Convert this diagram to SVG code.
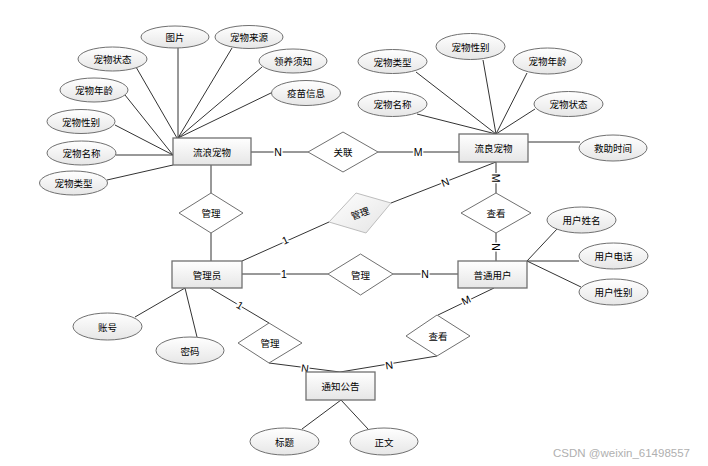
<svg xmlns="http://www.w3.org/2000/svg" width="708" height="466" viewBox="0 0 708 466">
<defs>
<linearGradient id="g" x1="0" y1="0" x2="0" y2="1">
<stop offset="0" stop-color="#ffffff"/>
<stop offset="1" stop-color="#e6e6e6"/>
</linearGradient>
<linearGradient id="gd" x1="0" y1="0" x2="1" y2="1">
<stop offset="0" stop-color="#ffffff"/>
<stop offset="1" stop-color="#e4e4e4"/>
</linearGradient>
</defs>
<style>
text{font-family:"Noto Sans CJK SC","Liberation Sans",sans-serif;font-size:9.5px;fill:#000;text-anchor:middle;dominant-baseline:central}
.ent rect{fill:url(#g);stroke:#707070;stroke-width:1.3}
.att ellipse{fill:url(#g);stroke:#707070;stroke-width:1}
.rel polygon{fill:#fff;stroke:#707070;stroke-width:1}
.rel2 polygon{fill:url(#gd);stroke:#bdbdbd;stroke-width:1}
#conn line,#conn polyline{stroke:#333;stroke-width:1;fill:none}
.lb{font-family:"Liberation Sans",sans-serif;font-size:10.5px;stroke:#fff;stroke-width:3;paint-order:stroke}
.wm{font-family:"Liberation Sans",sans-serif;font-size:11.5px;fill:#b0b0b0;text-anchor:start}
</style>
<rect width="708" height="466" fill="#fff"/>
<g id="conn">
<!-- 流浪宠物 attributes -->
<line x1="178" y1="48" x2="178" y2="138"/>
<line x1="232" y1="48" x2="178" y2="138"/>
<line x1="262" y1="67" x2="178" y2="138"/>
<line x1="273" y1="92" x2="178" y2="138"/>
<line x1="136" y1="67" x2="177" y2="138"/>
<line x1="125" y1="95" x2="173" y2="155"/>
<line x1="115" y1="125" x2="173" y2="155"/>
<line x1="116" y1="155" x2="173" y2="155"/>
<line x1="107" y1="180" x2="173" y2="165"/>
<!-- 流良宠物 attributes -->
<line x1="416" y1="72" x2="496" y2="134"/>
<line x1="483" y1="60" x2="496" y2="134"/>
<line x1="527" y1="73" x2="496" y2="134"/>
<line x1="417" y1="114" x2="496" y2="134"/>
<line x1="535" y1="109" x2="496" y2="134"/>
<line x1="528" y1="142" x2="580" y2="142"/>
<!-- relations -->
<line x1="251" y1="152" x2="308" y2="152"/>
<line x1="378" y1="152" x2="459" y2="152"/>
<line x1="211" y1="165" x2="211" y2="193"/>
<line x1="211" y1="233" x2="211" y2="261"/>
<line x1="242" y1="261" x2="329" y2="222"/>
<line x1="391" y1="203" x2="496" y2="162"/>
<line x1="242" y1="274" x2="328" y2="274"/>
<line x1="393" y1="274" x2="458" y2="274"/>
<line x1="496" y1="162" x2="496" y2="193"/>
<line x1="496" y1="233" x2="496" y2="261"/>
<line x1="210" y1="288" x2="269" y2="323"/>
<line x1="269" y1="363" x2="340" y2="372"/>
<line x1="437" y1="356" x2="340" y2="372"/>
<line x1="438" y1="315" x2="494" y2="288"/>
<!-- 普通用户 attributes -->
<line x1="527" y1="261" x2="557" y2="229"/>
<line x1="527" y1="261" x2="579" y2="261"/>
<line x1="527" y1="261" x2="581" y2="287"/>
<!-- 管理员 attributes -->
<line x1="185" y1="288" x2="135" y2="317"/>
<line x1="185" y1="288" x2="197" y2="337"/>
<!-- 通知公告 attributes -->
<line x1="341" y1="400" x2="302" y2="429"/>
<line x1="341" y1="400" x2="368" y2="429"/>
<!-- cardinality labels -->
<text class="lb" x="278" y="152">N</text>
<text class="lb" x="418" y="152">M</text>
<text class="lb" x="284" y="274">1</text>
<text class="lb" x="425" y="274">N</text>
<text class="lb" x="285" y="240" transform="rotate(-24 285 240)">1</text>
<text class="lb" x="445" y="182" transform="rotate(-21 445 182)">N</text>
<text class="lb" x="496" y="178" transform="rotate(90 496 178)">M</text>
<text class="lb" x="496" y="247" transform="rotate(90 496 247)">N</text>
<text class="lb" x="240" y="305" transform="rotate(31 240 305)">1</text>
<text class="lb" x="305" y="368" transform="rotate(7 305 368)">N</text>
<text class="lb" x="389" y="365" transform="rotate(-9 389 365)">N</text>
<text class="lb" x="466" y="300" transform="rotate(-26 466 300)">M</text>
</g>
<g id="e-stray" class="ent"><rect x="173" y="138" width="78" height="27"/><text x="212" y="151.5">流浪宠物</text></g>
<g id="e-stray2" class="ent"><rect x="459" y="134" width="69" height="28"/><text x="493.5" y="148">流良宠物</text></g>
<g id="e-admin" class="ent"><rect x="172" y="261" width="70" height="27"/><text x="207" y="274.5">管理员</text></g>
<g id="e-user" class="ent"><rect x="458" y="261" width="69" height="27"/><text x="492.5" y="274.5">普通用户</text></g>
<g id="e-notice" class="ent"><rect x="306" y="372" width="69" height="28"/><text x="340.5" y="386">通知公告</text></g>

<g id="a-tupian" class="att"><ellipse cx="175" cy="37" rx="34" ry="11"/><text x="175" y="37">图片</text></g>
<g id="a-laiyuan" class="att"><ellipse cx="249" cy="37" rx="34" ry="11.5"/><text x="249" y="37">宠物来源</text></g>
<g id="a-zhuangtai" class="att"><ellipse cx="112.5" cy="59" rx="34.5" ry="12"/><text x="112.5" y="59">宠物状态</text></g>
<g id="a-lingyang" class="att"><ellipse cx="293" cy="61" rx="34" ry="12"/><text x="293" y="61">领养须知</text></g>
<g id="a-nianling" class="att"><ellipse cx="94" cy="90" rx="34" ry="12"/><text x="94" y="90">宠物年龄</text></g>
<g id="a-yimiao" class="att"><ellipse cx="306" cy="93" rx="34.5" ry="12.5"/><text x="306" y="93">疫苗信息</text></g>
<g id="a-xingbie" class="att"><ellipse cx="81" cy="121.5" rx="34" ry="12"/><text x="81" y="121.5">宠物性别</text></g>
<g id="a-mingcheng" class="att"><ellipse cx="81.5" cy="153" rx="34.5" ry="12"/><text x="81.5" y="153">宠物名称</text></g>
<g id="a-leixing" class="att"><ellipse cx="73.5" cy="183" rx="34" ry="12"/><text x="73.5" y="183">宠物类型</text></g>

<g id="b-leixing" class="att"><ellipse cx="392.5" cy="61.5" rx="34.5" ry="12"/><text x="392.5" y="61.5">宠物类型</text></g>
<g id="b-xingbie" class="att"><ellipse cx="470.5" cy="46.5" rx="34.5" ry="13"/><text x="470.5" y="46.5">宠物性别</text></g>
<g id="b-nianling" class="att"><ellipse cx="547.5" cy="61" rx="34.5" ry="13"/><text x="547.5" y="61">宠物年龄</text></g>
<g id="b-mingcheng" class="att"><ellipse cx="392.5" cy="104" rx="34.5" ry="12.5"/><text x="392.5" y="104">宠物名称</text></g>
<g id="b-zhuangtai" class="att"><ellipse cx="568.5" cy="104" rx="34.5" ry="12.5"/><text x="568.5" y="104">宠物状态</text></g>
<g id="b-jiuzhu" class="att"><ellipse cx="613" cy="148" rx="34" ry="13"/><text x="613" y="148">救助时间</text></g>

<g id="u-xingming" class="att"><ellipse cx="581.5" cy="220" rx="34.5" ry="13"/><text x="581.5" y="220">用户姓名</text></g>
<g id="u-dianhua" class="att"><ellipse cx="613.5" cy="256" rx="34.5" ry="13"/><text x="613.5" y="256">用户电话</text></g>
<g id="u-xingbie" class="att"><ellipse cx="613.5" cy="292" rx="34.5" ry="13"/><text x="613.5" y="292">用户性别</text></g>

<g id="m-zhanghao" class="att"><ellipse cx="107.5" cy="326.5" rx="34.5" ry="13.5"/><text x="107.5" y="326.5">账号</text></g>
<g id="m-mima" class="att"><ellipse cx="190" cy="350.5" rx="34" ry="13.5"/><text x="190" y="350.5">密码</text></g>

<g id="n-biaoti" class="att"><ellipse cx="284.5" cy="441.5" rx="34.5" ry="13.5"/><text x="284.5" y="441.5">标题</text></g>
<g id="n-zhengwen" class="att"><ellipse cx="384" cy="441.5" rx="34" ry="13.5"/><text x="384" y="441.5">正文</text></g>

<g id="r-guanlian" class="rel"><polygon points="308,152 343,132 378,152 343,172"/><text x="343" y="152">关联</text></g>
<g id="r-guanli1" class="rel"><polygon points="179,213 211,193 243,213 211,233"/><text x="211" y="213">管理</text></g>
<g id="r-guanli2" class="rel2"><polygon points="329,222 356,193 391,203 366,233"/><text x="360" y="213" transform="rotate(-20 360 213)" fill="#444">管理</text></g>
<g id="r-guanli3" class="rel"><polygon points="328,274 360.5,254 393,274 360.5,295"/><text x="360.5" y="274.5">管理</text></g>
<g id="r-chakan1" class="rel"><polygon points="461,213 496,193 531,213 496,233"/><text x="496" y="213">查看</text></g>
<g id="r-guanli4" class="rel"><polygon points="238,343 269,323 302,343 269,363"/><text x="270" y="343">管理</text></g>
<g id="r-chakan2" class="rel"><polygon points="406,336 437,315 470,336 437,356"/><text x="438" y="336">查看</text></g>

<text class="wm" x="553" y="453">CSDN @weixin_61498557</text>
</svg>
